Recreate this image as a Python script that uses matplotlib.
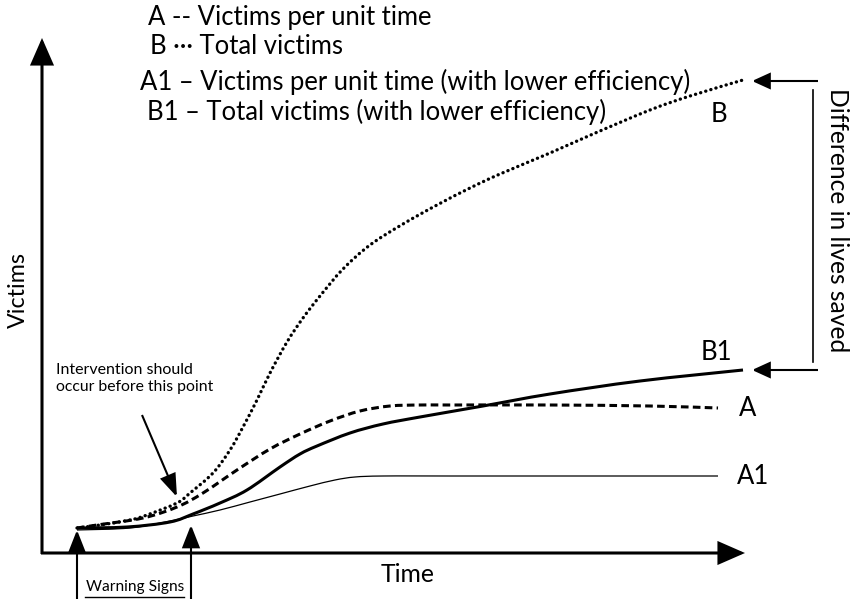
import matplotlib
matplotlib.use('Agg')
import matplotlib.pyplot as plt
import numpy as np
from matplotlib.patches import FancyArrowPatch, PathPatch
from matplotlib.path import Path

# ---- data (schematic units: time, victims) ----
time_B = [35, 58, 88, 105, 135, 148, 171, 188, 201, 215, 228, 245, 261, 278, 301, 328, 361, 395, 428, 458, 508, 551, 608, 648, 701]
vict_B = [25, 28, 33, 38, 50, 60, 80, 103, 126, 153, 180, 211, 235, 257, 284, 308, 329, 348, 365, 379, 400, 419, 443, 457, 473]

time_A = [35, 55, 101, 135, 161, 195, 228, 258, 288, 318, 348, 378, 408, 508, 608, 676]
vict_A = [25, 28, 35, 46, 60, 83, 104, 119, 132, 142, 147, 148, 148, 148, 147, 145]

time_B1 = [35, 85, 128, 151, 178, 205, 238, 258, 275, 308, 341, 378, 441, 508, 598, 701]
vict_B1 = [25, 26, 31, 39, 50, 63, 86, 99, 107, 120, 129, 136, 147, 159, 172, 183]

time_A1 = [35, 88, 128, 151, 178, 208, 238, 268, 293, 313, 341, 408, 676]
vict_A1 = [23, 25, 32, 37, 43, 51, 59, 67, 73, 76, 77, 77, 77]

legend_rows = ["A -- Victims per unit time",
               "B \u00b7\u00b7\u00b7 Total victims",
               "A1 \u2013 Victims per unit time (with lower efficiency)",
               "B1 \u2013 Total victims (with lower efficiency)"]
curve_labels = ["B", "B1", "A", "A1"]

plt.rcParams['font.family'] = ['Lato', 'DejaVu Sans']

W, H = 851, 599
X0, Y0 = 42, 553

fig = plt.figure(figsize=(W / 100, H / 100), dpi=100)
ax = fig.add_axes([0, 0, 1, 1])
ax.set_xlim(-X0, W - X0)
ax.set_ylim(-(H - Y0), Y0)
ax.axis('off')
renderer = fig.canvas.get_renderer()


def P(x, y):
    return (x - X0, Y0 - y)


def fit_size(s, width, rotation=0):
    t = ax.text(0, 0, s, rotation=rotation, fontsize=12)
    bb = t.get_window_extent(renderer=renderer)
    t.remove()
    w = bb.width if rotation == 0 else bb.height
    return 12 * width / w


def fit_text(x, y, s, width, rotation=0, **kw):
    return ax.text(*P(x, y), s, rotation=rotation,
                   fontsize=fit_size(s, width, rotation), color='black', **kw)


def arrow(tail, tip, lw, hl, hw):
    a = FancyArrowPatch(P(*tail), P(*tip),
                        arrowstyle=f'-|>,head_length={hl},head_width={hw}',
                        mutation_scale=1, lw=lw, color='black',
                        shrinkA=0, shrinkB=0, joinstyle='miter', capstyle='butt')
    ax.add_patch(a)


def smooth_curve(xs, ys, **kw):
    """Draw a smooth curve through the points as cubic Bezier segments."""
    p = np.column_stack([xs, ys]).astype(float)
    n = len(p)
    verts = [p[0]]
    codes = [Path.MOVETO]
    for i in range(n - 1):
        p0 = p[i - 1] if i > 0 else p[i]
        p1, p2 = p[i], p[i + 1]
        p3 = p[i + 2] if i + 2 < n else p[i + 1]
        c1 = p1 + (p2 - p0) / 6.0
        c2 = p2 - (p3 - p1) / 6.0
        verts += [c1, c2, p2]
        codes += [Path.CURVE4] * 3
    ax.add_patch(PathPatch(Path(verts, codes), fill=False, edgecolor='black', **kw))


# axes arrows
arrow((42, 554), (42, 38), 2.2, 16, 7)
arrow((41, 553), (745, 553), 2.2, 16, 7)

# curves
smooth_curve(time_B, vict_B, lw=2.4, linestyle=(0, (0.05, 1.55)), capstyle='round')
smooth_curve(time_A, vict_A, lw=2.2, linestyle=(0, (2.5, 1.4)), capstyle='butt')
smooth_curve(time_B1, vict_B1, lw=2.2, capstyle='butt')
smooth_curve(time_A1, vict_A1, lw=0.9)

# legend text (one common size)
leg_fs = fit_size(legend_rows[2], 548)
ax.text(*P(148, 17), legend_rows[0], fontsize=leg_fs, ha='left', va='center')
ax.text(*P(150, 47), legend_rows[1], fontsize=leg_fs, ha='left', va='center')
ax.text(*P(140, 82), legend_rows[2], fontsize=leg_fs, ha='left', va='center')
ax.text(*P(147, 112), legend_rows[3], fontsize=leg_fs, ha='left', va='center')

# curve labels
lab_fs = leg_fs
ax.text(*P(711, 115), curve_labels[0], fontsize=lab_fs, ha='left', va='center')
ax.text(*P(701, 353), curve_labels[1], fontsize=lab_fs, ha='left', va='center')
ax.text(*P(739, 408), curve_labels[2], fontsize=lab_fs, ha='left', va='center')
ax.text(*P(737, 476), curve_labels[3], fontsize=lab_fs, ha='left', va='center')

# axis titles
fit_text(18, 290, "Victims", 75, rotation=90, ha='center', va='center')
fit_text(408, 575, "Time", 54, ha='center', va='center')
fit_text(838, 220, "Difference in lives saved", 264, rotation=-90, ha='center', va='center')

# intervention note
fit_text(56, 370, "Intervention should", 137, ha='left', va='center')
fit_text(56, 387, "occur before this point", 157, ha='left', va='center')
arrow((142, 415), (177, 497), 1.5, 14, 5)

# warning signs
fit_text(135, 587, "Warning Signs", 98, ha='center', va='center')
ax.plot(*zip(P(85, 597), P(184, 597)), color='black', lw=1.0)
arrow((77, 610), (77, 530), 1.5, 14, 5.5)
arrow((191, 610), (191, 525), 1.5, 14, 5.5)

# difference bracket
ax.plot(*zip(P(813, 90), P(813, 362)), color='black', lw=1.2)
arrow((818, 81), (752, 81), 1.5, 11, 5)
arrow((818, 370), (752, 370), 1.5, 11, 5)

fig.savefig('out.png', dpi=100)
